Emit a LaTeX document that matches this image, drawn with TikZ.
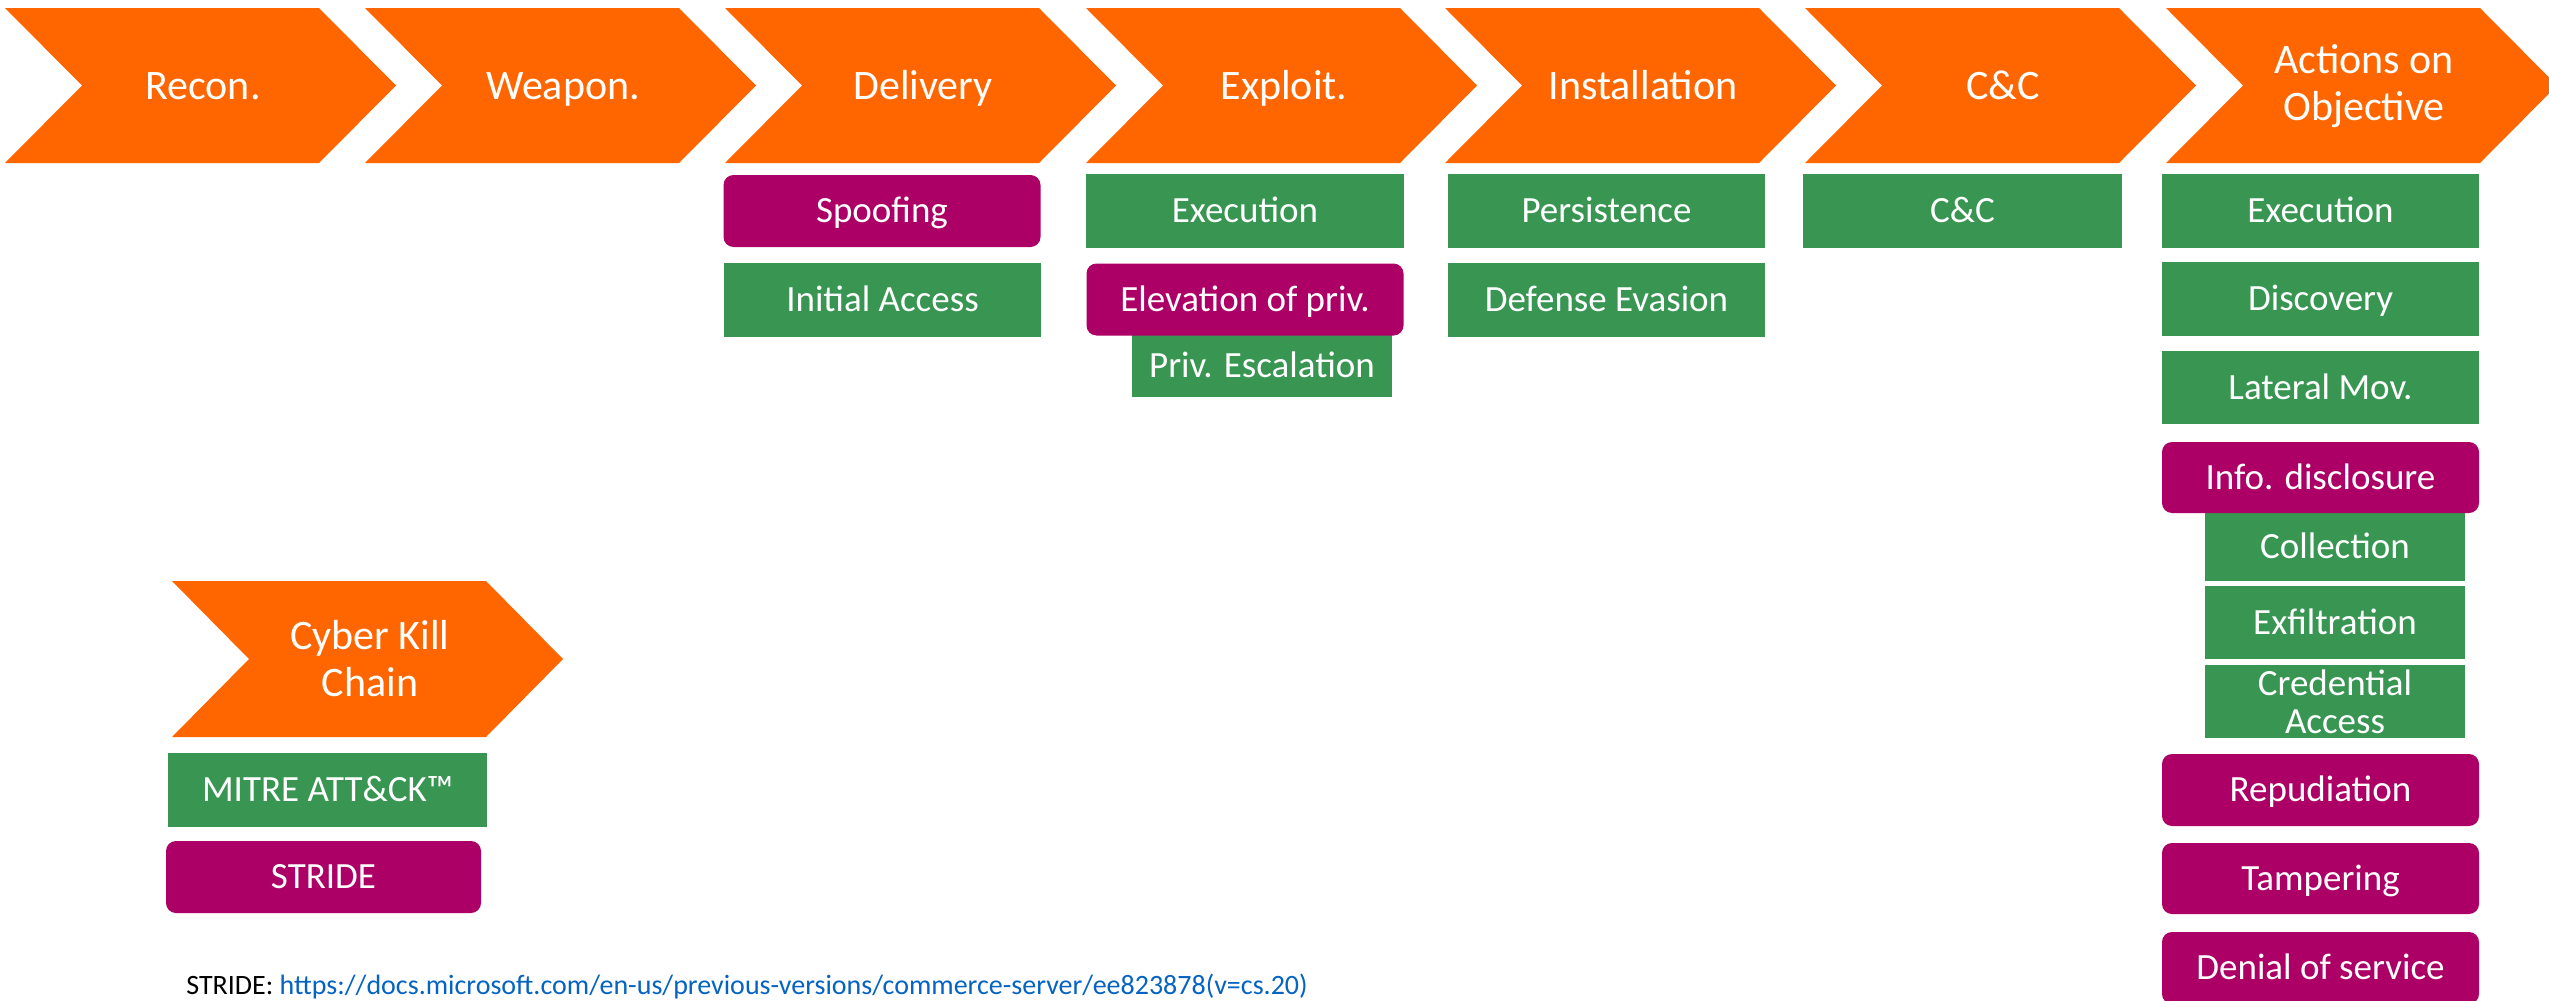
\documentclass[tikz,border=0pt]{standalone}
\usepackage{fontspec}
\setmainfont{Carlito}
\definecolor{kcorange}{RGB}{255,102,0}
\definecolor{attgreen}{RGB}{56,150,82}
\definecolor{stridepurple}{RGB}{172,0,102}
\definecolor{linkblue}{RGB}{5,99,193}
\newcommand\phasefont{\fontsize{21}{23.5}\selectfont}
\newcommand\boxfont{\fontsize{18.5}{19}\selectfont}
\newcommand\notefont{\fontsize{14}{16}\selectfont}
\begin{document}
\begin{tikzpicture}[x=0.5pt,y=-0.5pt,
    phase/.style={text=white,font=\phasefont,align=center,inner sep=0pt},
    capc/.style={text height=13.3pt,text depth=0pt},
    twoline/.style={},
    att/.style={fill=attgreen,text=white,font=\boxfont,inner sep=0pt,
        minimum width=158.5pt,minimum height=37pt,text height=11.7pt,text depth=0pt},
    stride/.style={att,fill=stridepurple,rounded corners=5pt,minimum height=36pt},
    narrow/.style={minimum width=130pt}]
\clip (0,0) rectangle (2549,1001);
% the seven kill chain phases
\foreach \x/\nm/\lbl/\sty in {5/recon/Recon./capc,365/weapon/Weapon./capc,
        725/delivery/Delivery/capc,1086/exploit/Exploit./capc,
        1445/install/Installation/capc,1805/cnc/C\&C/capc,
        2166/actions/{Actions on\\Objective}/twoline}{
    \fill[kcorange](\x,8)--++(314,0)--++(77,77.5)--++(-77,77.5)--++(-314,0)--++(77,-77.5)--cycle;
    \node[phase,\sty](\nm) at (\x+198,86.5){\lbl};
}
% delivery
\node[stride](spoof) at (882,211){Spoofing};
\node[att](initacc) at (882.5,300){Initial Access};
% exploitation
\node[att,minimum width=159pt](exec) at (1245,211){Execution};
\node[att,narrow,minimum height=31.5pt](privesc) at (1262,365.5){Priv. Escalation};
\node[stride](elev) at (1245,299.5){Elevation of priv.};
% installation, c&c
\node[att](persist) at (1606.5,211){Persistence};
\node[att](defev) at (1606.5,300){Defense Evasion};
\node[att,minimum width=159.5pt](ctrl) at (1962.5,211){C\&C};
% actions on objective
\node[att](execaoo) at (2320.5,211){Execution};
\node[att](disc) at (2320.5,299){Discovery};
\node[att,minimum height=36.5pt](latmov) at (2320.5,387.5){Lateral Mov.};
\node[att,narrow,minimum height=34pt](coll) at (2335,547){Collection};
\node[stride,minimum height=35.5pt](info) at (2320.5,477.5){Info. disclosure};
\node[att,narrow,minimum height=36.5pt](exfil) at (2335,622.5){Exfiltration};
\node[att,narrow,minimum height=36.5pt,text height=,text depth=,align=center](cred) at (2335,701.5){Credential\\Access};
\node[stride](repud) at (2320.5,790){Repudiation};
\node[stride,minimum height=35.5pt](tamp) at (2320.5,878.5){Tampering};
\node[stride](dos) at (2320.5,968){Denial of service};
% legend
\fill[kcorange](172,581)--++(314,0)--++(77,78)--++(-77,78)--++(-314,0)--++(77,-78)--cycle;
\node[phase](ckc) at (370,659){Cyber Kill\\Chain};
\node[att,minimum width=159.5pt](mitre) at (327.5,790){MITRE ATT\&CK™};
\node[stride,minimum width=157.5pt](strideleg) at (323.5,877){STRIDE};
\node[anchor=base west,font=\notefont,inner sep=0pt](note) at (186,994)
    {STRIDE: \textcolor{linkblue}{https://docs.microsoft.com/en-us/previous-versions/commerce-server/ee823878(v=cs.20)}};
\end{tikzpicture}
\end{document}
